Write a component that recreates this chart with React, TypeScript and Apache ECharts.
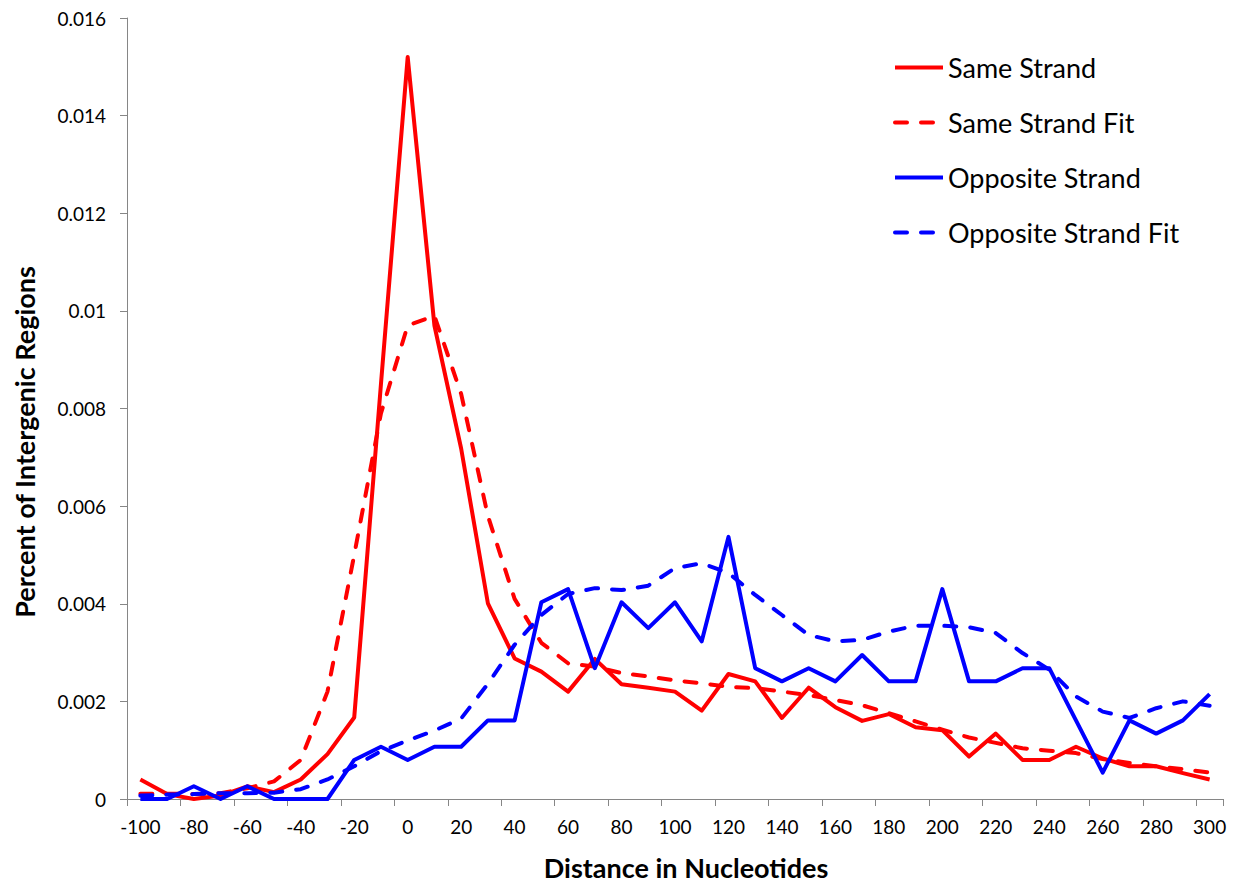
import React, { useEffect, useRef } from "react";
import * as echarts from "echarts";

// Distance bins (nucleotides), one every 10 from -100 to 300
const distances: string[] = [
  "-100", "-90", "-80", "-70", "-60", "-50", "-40", "-30", "-20", "-10",
  "0", "10", "20", "30", "40", "50", "60", "70", "80", "90",
  "100", "110", "120", "130", "140", "150", "160", "170", "180", "190",
  "200", "210", "220", "230", "240", "250", "260", "270", "280", "290", "300",
];

const sameStrand: number[] = [
  0.0004, 0.0001, 0.0, 0.00007, 0.00026, 0.00014, 0.0004, 0.00092, 0.00167, 0.0085,
  0.0152, 0.0097, 0.00718, 0.00401, 0.00288, 0.00261, 0.0022, 0.00287, 0.00235, 0.00228,
  0.0022, 0.00181, 0.00256, 0.00241, 0.00166, 0.00228, 0.00188, 0.0016, 0.00174, 0.00147,
  0.00141, 0.00087, 0.00134, 0.0008, 0.0008, 0.00107, 0.00083, 0.00067, 0.00067, 0.00053,
  0.0004,
];

const sameStrandFit: number[] = [
  0.00011, 0.00011, 0.0001, 0.00012, 0.00022, 0.00036, 0.0008, 0.0022, 0.005, 0.0079,
  0.0097, 0.0099, 0.0083, 0.0058, 0.0041, 0.0032, 0.00278, 0.00271, 0.00258, 0.00251,
  0.00243, 0.00237, 0.0023, 0.00227, 0.0022, 0.00213, 0.00203, 0.00192, 0.00176, 0.00159,
  0.00142, 0.00126, 0.00115, 0.00104, 0.00099, 0.00094, 0.00082, 0.00074, 0.00067, 0.00061,
  0.00054,
];

const oppositeStrand: number[] = [
  0, 0, 0.00026, 0, 0.00026, 0, 0, 0, 0.0008, 0.00107,
  0.0008, 0.00107, 0.00107, 0.00161, 0.00161, 0.00403, 0.0043, 0.00268, 0.00403, 0.0035,
  0.00403, 0.00323, 0.00537, 0.00268, 0.00241, 0.00268, 0.00241, 0.00295, 0.00241, 0.00241,
  0.0043, 0.00241, 0.00241, 0.00268, 0.00268, 0.00161, 0.00054, 0.00161, 0.00134, 0.00161,
  0.00215,
];

const oppositeStrandFit: number[] = [
  0.00007, 0.00009, 0.0001, 0.00012, 0.00012, 0.00013, 0.0002, 0.0004, 0.00067, 0.00098,
  0.0012, 0.0014, 0.00165, 0.00236, 0.00316, 0.00377, 0.0042, 0.00432, 0.00428, 0.00437,
  0.00473, 0.00483, 0.00463, 0.00418, 0.00377, 0.00336, 0.00323, 0.00326, 0.00343, 0.00355,
  0.00355, 0.00352, 0.0034, 0.00299, 0.00265, 0.0021, 0.00179, 0.00166, 0.00186, 0.002,
  0.00191,
];

const FONT = "Lato, 'Open Sans', sans-serif";
const AXIS_GRAY = "#868686";
const RED = "#FF0000";
const BLUE = "#0000FF";
const LINE_W = 4;
const DASH = [12, 14];

function lineSeries(name: string, data: number[], color: string, dashed: boolean) {
  return {
    name,
    type: "line",
    data,
    symbol: "none",
    smooth: false,
    lineStyle: {
      color,
      width: LINE_W,
      type: dashed ? DASH : "solid",
      cap: dashed ? "round" : "butt",
      join: "round",
    },
    itemStyle: { color },
  };
}

export default function App() {
  const ref = useRef<HTMLDivElement>(null);

  useEffect(() => {
    if (!ref.current) return;
    const chart = echarts.init(ref.current, null, { renderer: "svg" });
    chart.setOption({
      animation: false,
      backgroundColor: "#ffffff",
      grid: { left: 127, right: 16, top: 18, bottom: 85, containLabel: false },
      legend: {
        orient: "vertical",
        left: 893,
        top: 54,
        padding: 0,
        itemWidth: 48,
        itemHeight: 27,
        itemGap: 28,
        itemStyle: { opacity: 0 },
        lineStyle: { width: LINE_W },
        textStyle: { fontFamily: FONT, fontSize: 27, color: "#000", lineHeight: 27 },
        data: ["Same Strand", "Same Strand Fit", "Opposite Strand", "Opposite Strand Fit"],
      },
      xAxis: {
        type: "category",
        data: distances,
        boundaryGap: true,
        axisLine: { lineStyle: { color: AXIS_GRAY, width: 1 } },
        axisTick: {
          show: true,
          interval: (i: number) => i % 2 === 0 && i < distances.length,
          length: 7,
          alignWithLabel: false,
          lineStyle: { color: AXIS_GRAY },
        },
        axisLabel: { interval: 1, margin: 18, fontFamily: FONT, fontSize: 19, color: "#000" },
        splitLine: { show: false },
      },
      yAxis: {
        type: "value",
        min: 0,
        max: 0.016,
        interval: 0.002,
        axisLine: { show: true, lineStyle: { color: AXIS_GRAY, width: 1 } },
        axisTick: { show: true, length: 7, lineStyle: { color: AXIS_GRAY } },
        axisLabel: {
          margin: 21,
          fontFamily: FONT,
          fontSize: 19,
          color: "#000",
          formatter: (v: number) => String(parseFloat(v.toFixed(3))),
        },
        splitLine: { show: false },
      },
      series: [
        lineSeries("Same Strand", sameStrand, RED, false),
        lineSeries("Same Strand Fit", sameStrandFit, RED, true),
        lineSeries("Opposite Strand", oppositeStrand, BLUE, false),
        lineSeries("Opposite Strand Fit", oppositeStrandFit, BLUE, true),
      ],
      graphic: [
        {
          type: "text",
          x: 686,
          y: 867,
          style: {
            text: "Distance in Nucleotides",
            fontFamily: FONT,
            fontWeight: "bold",
            fontSize: 27,
            fill: "#000",
            align: "center",
            verticalAlign: "middle",
          },
        },
        {
          type: "text",
          x: 24,
          y: 442,
          rotation: Math.PI / 2,
          style: {
            text: "Percent of Intergenic Regions",
            fontFamily: FONT,
            fontWeight: "bold",
            fontSize: 27,
            fill: "#000",
            align: "center",
            verticalAlign: "middle",
          },
        },
      ],
    });
    return () => chart.dispose();
  }, []);

  return (
    <div
      ref={ref}
      style={{ position: "fixed", left: 0, top: 0, width: 1239, height: 884, background: "#fff" }}
    />
  );
}
